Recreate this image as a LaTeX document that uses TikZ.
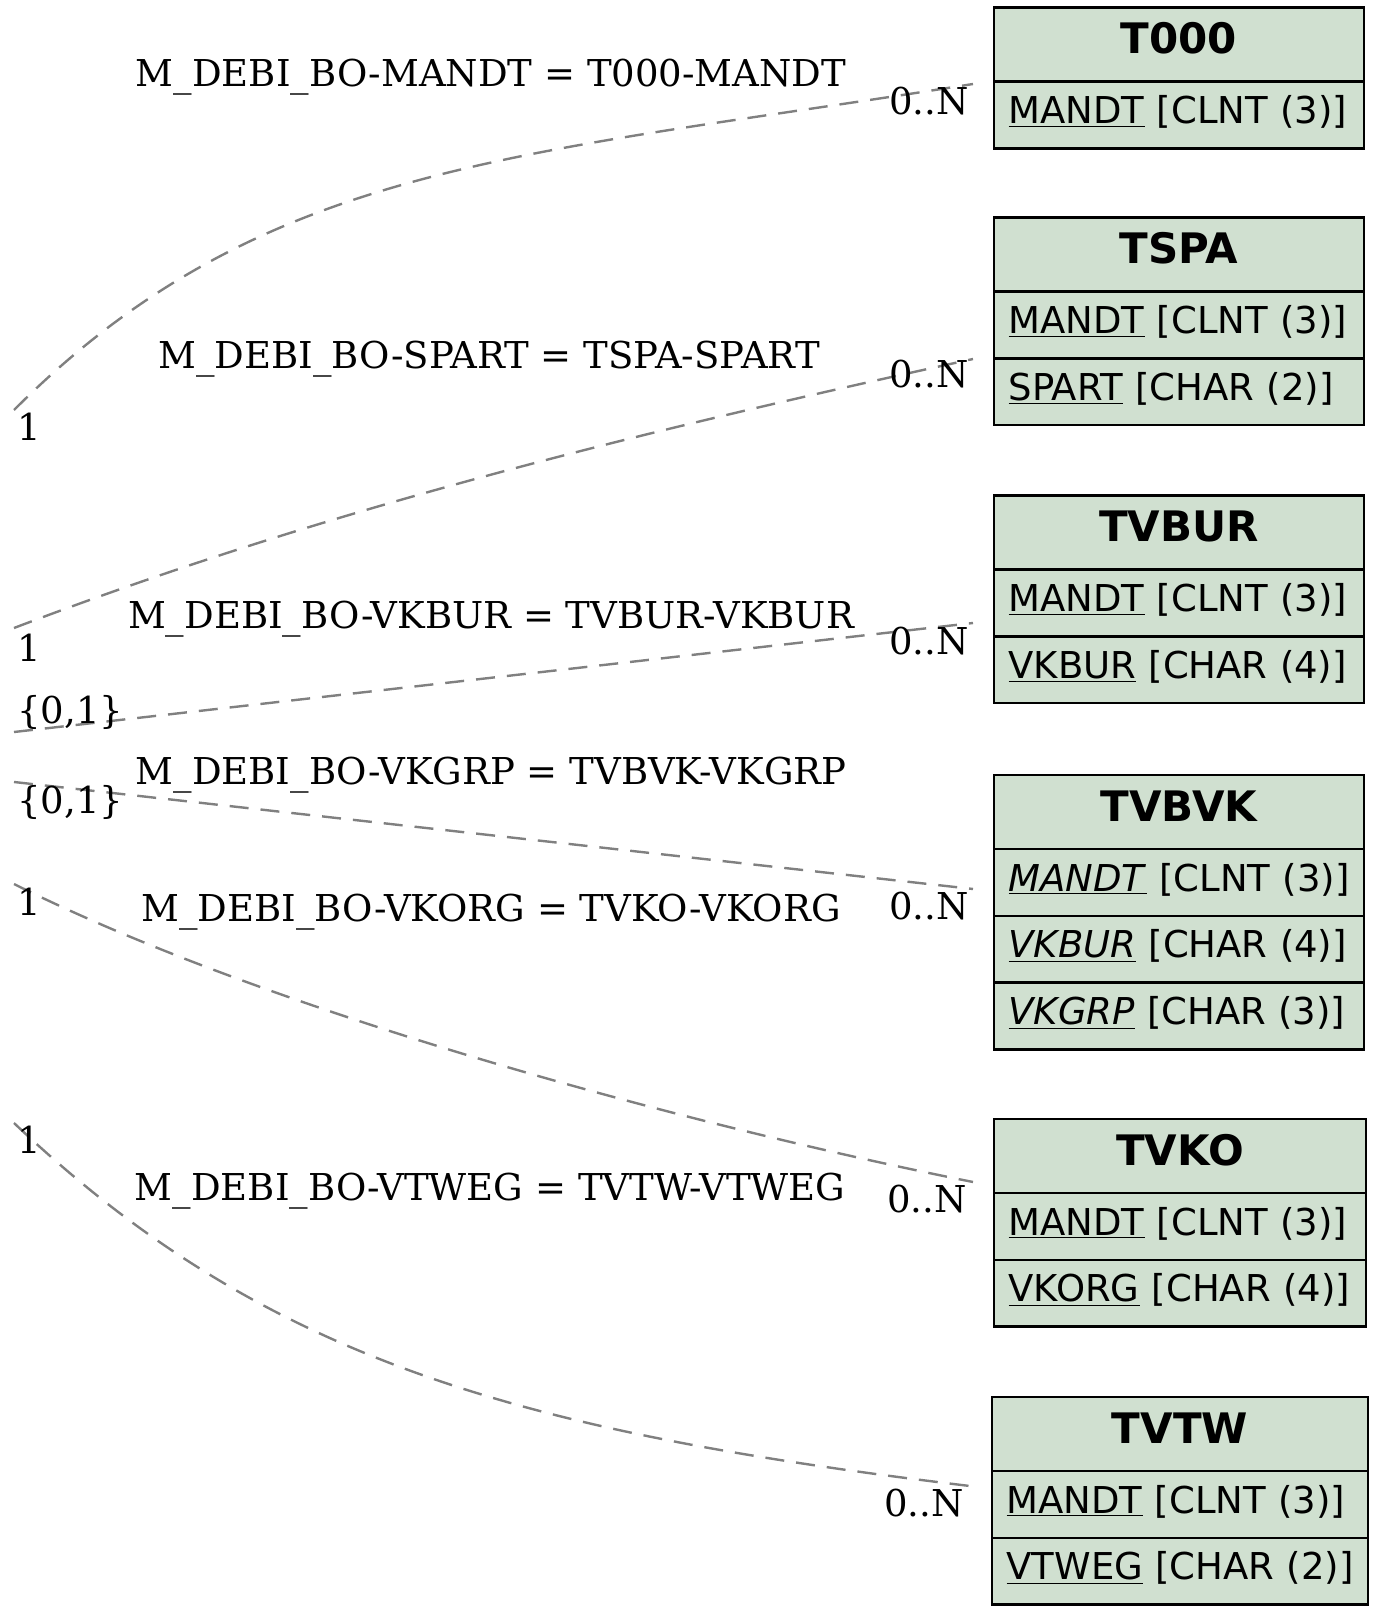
\documentclass[tikz,border=0pt]{standalone}
\usepackage{fontspec}
\setmainfont{DejaVu Serif}
\newfontfamily\tablefont{DejaVu Sans}
\usetikzlibrary{positioning}
\definecolor{tablefill}{HTML}{D0E0D0}
\newcommand{\srctable}{M\_DEBI\_BO}
\newcommand{\keyfield}[2]{\mbox{\underline{#1} [#2]}}
\newcommand{\fkfield}[2]{\mbox{\underline{\textit{#1}} [#2]}}

\begin{document}
\begin{tikzpicture}[x=0.5pt,y=-0.5pt,
  tablehead/.style={draw,line width=1.25pt,fill=tablefill,anchor=north west,inner sep=0pt,outer sep=0pt,
    minimum width=#1,text height=23pt,text depth=14pt,font=\tablefont\bfseries\fontsize{21}{21}\selectfont},
  tablerow/.style={draw,line width=1.25pt,fill=tablefill,inner xsep=7.25pt,inner ysep=0pt,outer sep=0pt,
    text width=#1,align=left,text height=21pt,text depth=12.4pt,font=\tablefont\fontsize{18.5}{18.5}\selectfont},
  relation/.style={draw=gray,line width=1.2pt,dash pattern=on 9.5pt off 6pt},
  joinlabel/.style={anchor=base,font=\fontsize{18.5}{18.5}\selectfont},
  cardlabel/.style={inner sep=0pt,font=\fontsize{18.5}{18.5}\selectfont}]
\useasboundingbox (0,0) rectangle (1373,1609);

\node[tablehead=185pt]            (t000)       at (994,7.5)  {T000};
\node[tablerow=170.5pt,below=0pt of t000]        (t000mandt)  {\keyfield{MANDT}{CLNT (3)}};

\node[tablehead=185pt]            (tspa)       at (994,217.5) {TSPA};
\node[tablerow=170.5pt,below=0pt of tspa]        (tspamandt)  {\keyfield{MANDT}{CLNT (3)}};
\node[tablerow=170.5pt,below=0pt of tspamandt]   (tspaspart)  {\keyfield{SPART}{CHAR (2)}};

\node[tablehead=185pt]            (tvbur)      at (994,495.5) {TVBUR};
\node[tablerow=170.5pt,below=0pt of tvbur]       (tvburmandt) {\keyfield{MANDT}{CLNT (3)}};
\node[tablerow=170.5pt,below=0pt of tvburmandt]  (tvburvkbur) {\keyfield{VKBUR}{CHAR (4)}};

\node[tablehead=185pt]            (tvbvk)      at (994,775)  {TVBVK};
\node[tablerow=170.5pt,below=0pt of tvbvk]       (tvbvkmandt) {\fkfield{MANDT}{CLNT (3)}};
\node[tablerow=170.5pt,below=0pt of tvbvkmandt]  (tvbvkvkbur) {\fkfield{VKBUR}{CHAR (4)}};
\node[tablerow=170.5pt,below=0pt of tvbvkvkbur]  (tvbvkvkgrp) {\fkfield{VKGRP}{CHAR (3)}};

\node[tablehead=186pt]            (tvko)       at (994,1119) {TVKO};
\node[tablerow=171.5pt,below=0pt of tvko]        (tvkomandt)  {\keyfield{MANDT}{CLNT (3)}};
\node[tablerow=171.5pt,below=0pt of tvkomandt]   (tvkovkorg)  {\keyfield{VKORG}{CHAR (4)}};

\node[tablehead=188pt]            (tvtw)       at (992,1397) {TVTW};
\node[tablerow=173.5pt,below=0pt of tvtw]        (tvtwmandt)  {\keyfield{MANDT}{CLNT (3)}};
\node[tablerow=173.5pt,below=0pt of tvtwmandt]   (tvtwvtweg)  {\keyfield{VTWEG}{CHAR (2)}};

\coordinate (srcmandt) at (14,410);
\coordinate (endmandt) at (973,84);
\coordinate (srcspart) at (14,628);
\coordinate (endspart) at (973,359);
\coordinate (srcvkbur) at (14,732);
\coordinate (endvkbur) at (973,623);
\coordinate (srcvkgrp) at (14,782);
\coordinate (endvkgrp) at (973,889);
\coordinate (srcvkorg) at (14,884);
\coordinate (endvkorg) at (973,1182);
\coordinate (srcvtweg) at (14,1123);
\coordinate (endvtweg) at (970,1486);

\draw[relation] (srcmandt) .. controls (264,160) and (523,156) .. (endmandt);
\draw[relation] (srcspart) .. controls (334,506) and (653,429) .. (endspart);
\draw[relation] (srcvkbur) -- (endvkbur);
\draw[relation] (srcvkgrp) -- (endvkgrp);
\draw[relation] (srcvkorg) .. controls (264,1009) and (673,1122) .. (endvkorg);
\draw[relation] (srcvtweg) .. controls (264,1360) and (520,1432) .. (endvtweg);

\node[joinlabel] (lblmandt) at (491,87)   {\srctable-MANDT = T000-MANDT};
\node[joinlabel] (lblspart) at (489,369)  {\srctable-SPART = TSPA-SPART};
\node[joinlabel] (lblvkbur) at (491,628)  {\srctable-VKBUR = TVBUR-VKBUR};
\node[joinlabel] (lblvkgrp) at (491,784)  {\srctable-VKGRP = TVBVK-VKGRP};
\node[joinlabel] (lblvkorg) at (491,921)  {\srctable-VKORG = TVKO-VKORG};
\node[joinlabel] (lblvtweg) at (490,1200) {\srctable-VTWEG = TVTW-VTWEG};

\node[cardlabel,anchor=base west] (srccardmandt) at (17,441)  {1};
\node[cardlabel,anchor=base west] (srccardspart) at (17,661)  {1};
\node[cardlabel,anchor=base west] (srccardvkbur) at (17,723)  {\{0,1\}};
\node[cardlabel,anchor=base west] (srccardvkgrp) at (17,813)  {\{0,1\}};
\node[cardlabel,anchor=base west] (srccardvkorg) at (17,915)  {1};
\node[cardlabel,anchor=base west] (srccardvtweg) at (17,1153) {1};

\node[cardlabel,anchor=base east] (endcardmandt) at (969,115)  {0..N};
\node[cardlabel,anchor=base east] (endcardspart) at (969,388)  {0..N};
\node[cardlabel,anchor=base east] (endcardvkbur) at (969,654)  {0..N};
\node[cardlabel,anchor=base east] (endcardvkgrp) at (969,919)  {0..N};
\node[cardlabel,anchor=base east] (endcardvkorg) at (967,1212) {0..N};
\node[cardlabel,anchor=base east] (endcardvtweg) at (964,1516) {0..N};
\end{tikzpicture}
\end{document}
